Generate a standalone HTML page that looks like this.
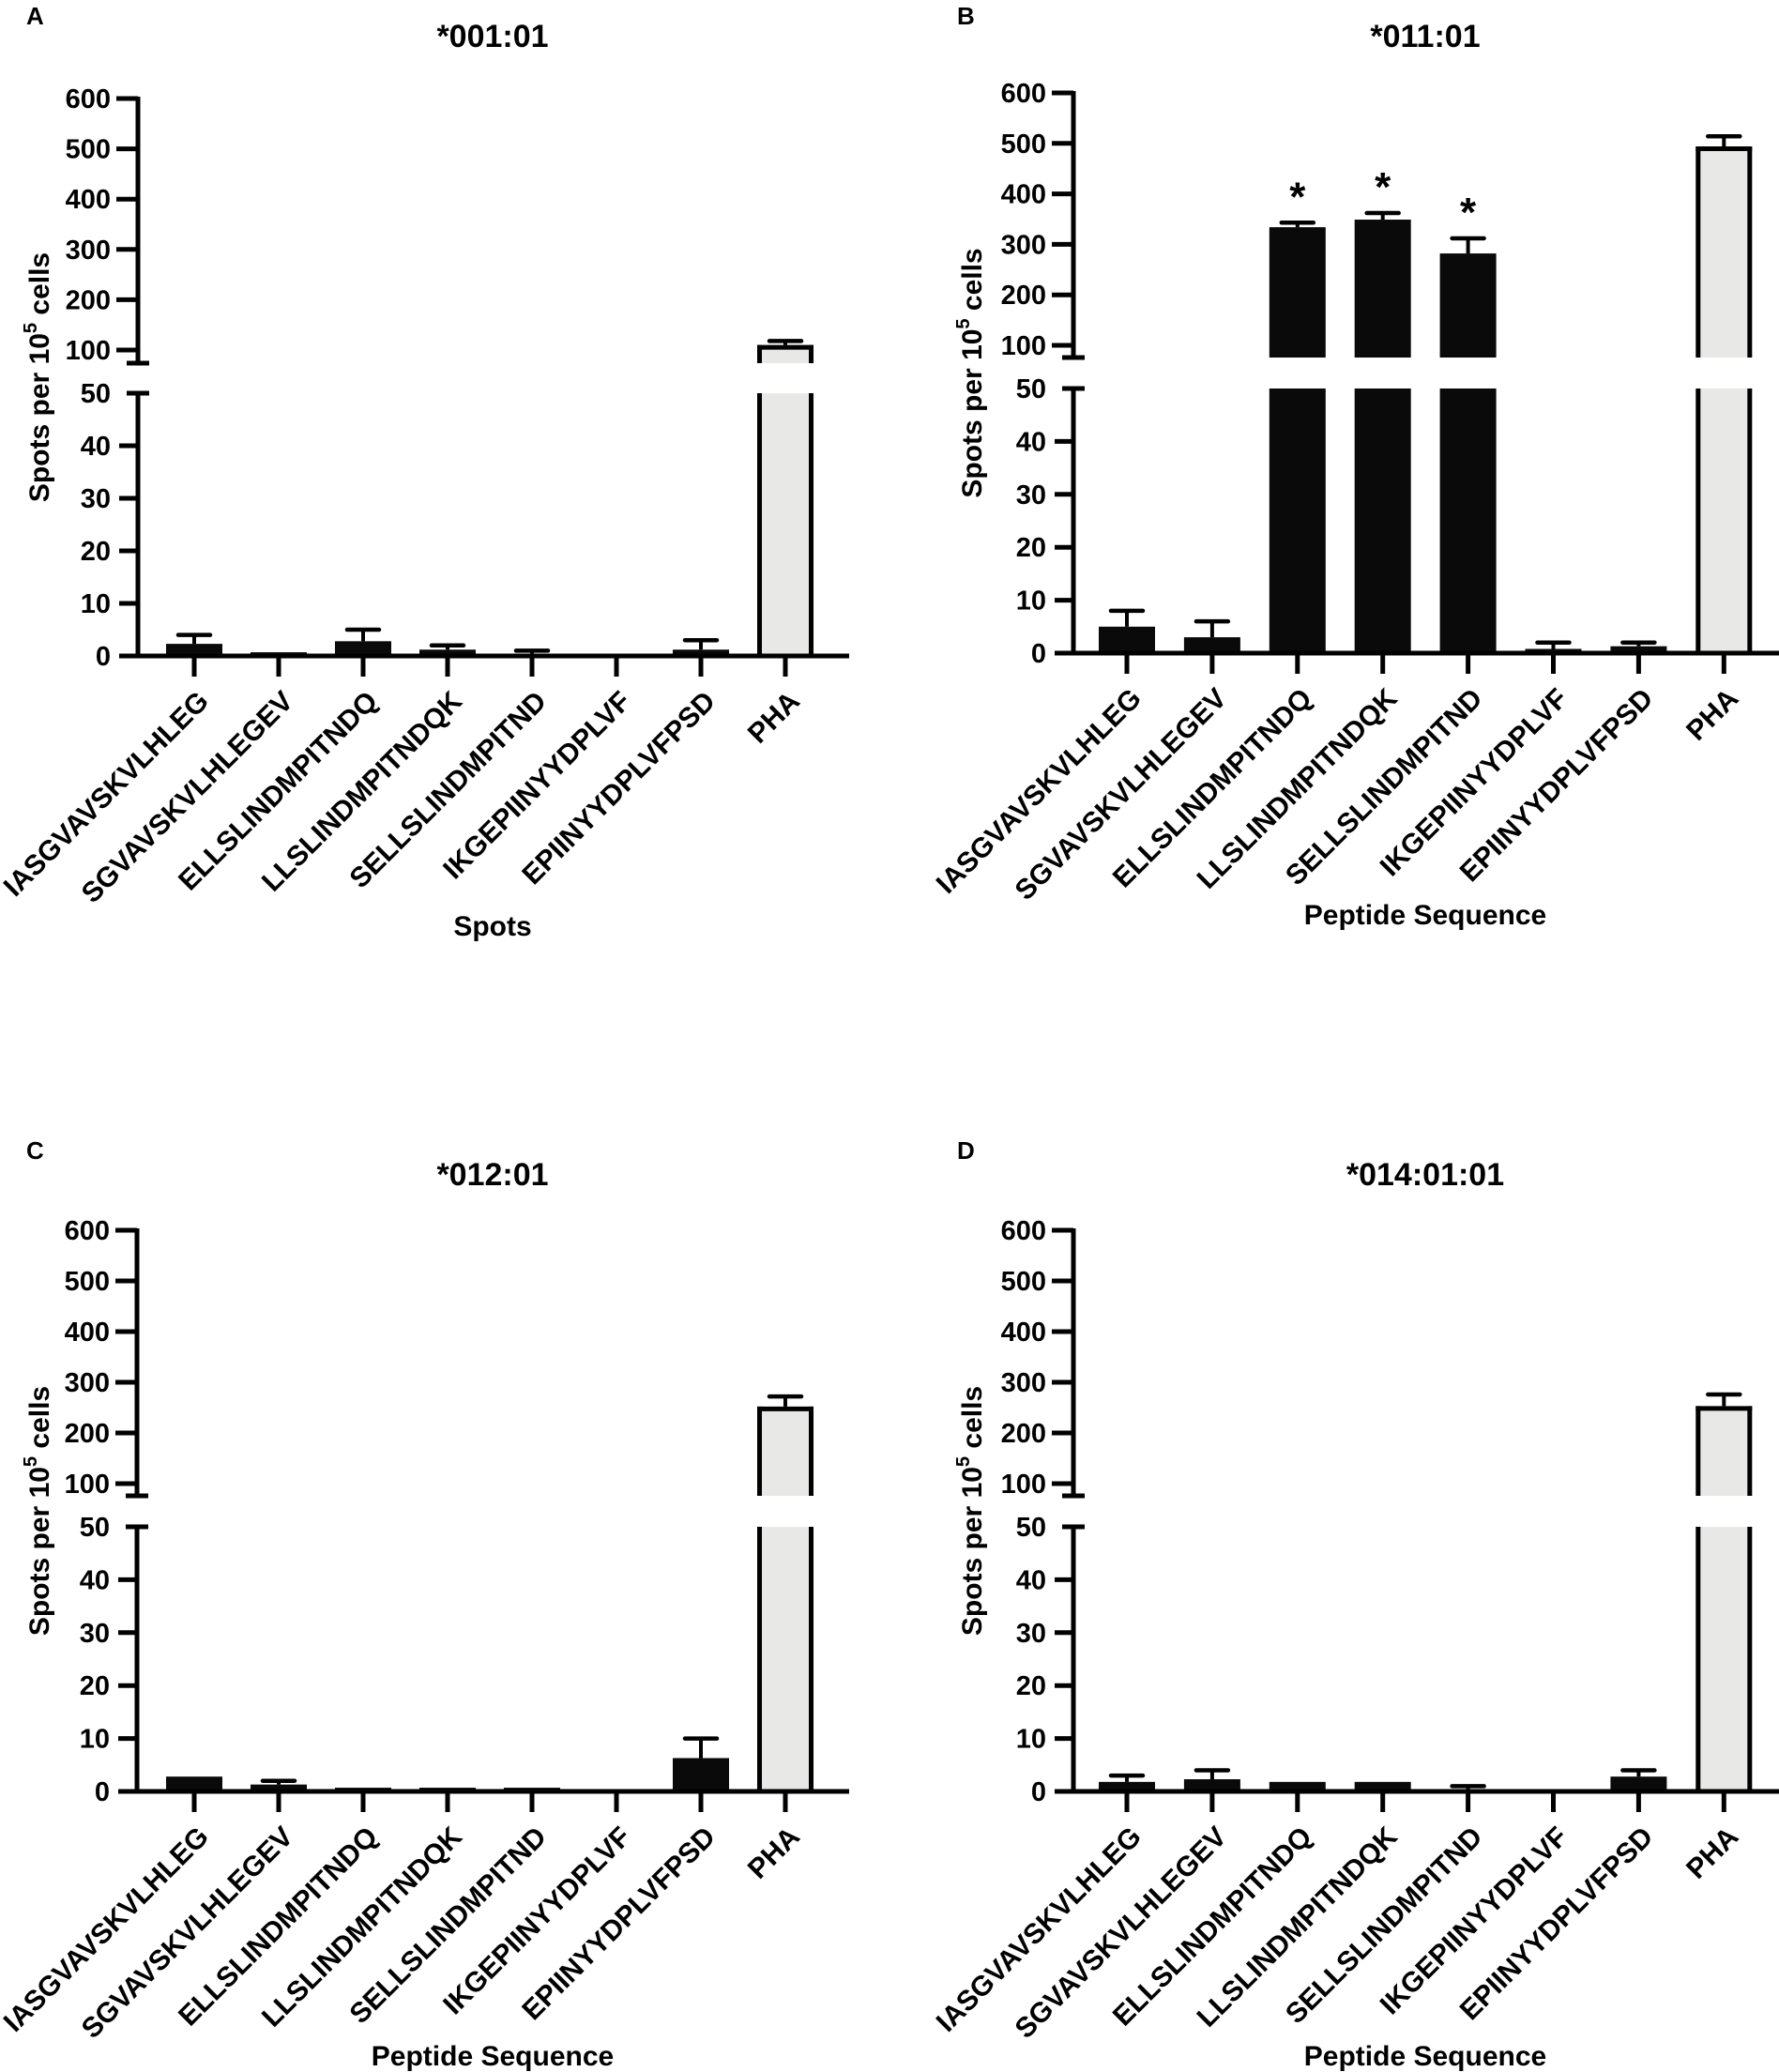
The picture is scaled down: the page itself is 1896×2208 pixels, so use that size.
<!DOCTYPE html>
<html><head><meta charset="utf-8"><style>
html,body{margin:0;padding:0;background:#fff;}
svg{display:block;font-family:"Liberation Sans",Arial,sans-serif;font-weight:bold;}
</style></head><body>
<svg id="fig" width="1896" height="2208" viewBox="0 0 1896 2208" xmlns="http://www.w3.org/2000/svg"></svg>
<script>
const categories = ["IASGVAVSKVLHLEG","SGVAVSKVLHLEGEV","ELLSLINDMPITNDQ","LLSLINDMPITNDQK","SELLSLINDMPITND","IKGEPIINYYDPLVF","EPIINYYDPLVFPSD","PHA"];
const yTicksUpper = [100,200,300,400,500,600];
const yTicksLower = [0,10,20,30,40,50];
const valuesA = [2.3,0.7,2.8,1.2,0.3,0,1.2,110];
const errA    = [4,0.7,5,2,1,0,3,118];
const valuesB = [5,3,334,349,282,0.8,1.3,494];
const errB    = [8,6,343,362,312,2,2,514];
const starsB  = [false,false,true,true,true,false,false,false];
const valuesC = [2.8,1.3,0.7,0.7,0.7,0,6.3,252];
const errC    = [2.8,2,0.7,0.7,0.7,0,10,272];
const valuesD = [1.8,2.3,1.8,1.8,0.3,0,2.8,253];
const errD    = [3,4,1.8,1.8,1,0,4,276];
const titles = ["*001:01","*011:01","*012:01","*014:01:01"];
const letters = ["A","B","C","D"];
const xTitles = ["Spots","Peptide Sequence","Peptide Sequence","Peptide Sequence"];

const NS="http://www.w3.org/2000/svg";
const svg=document.getElementById('fig');
function mk(tag,attrs,parent){const e=document.createElementNS(NS,tag);for(const k in attrs)e.setAttribute(k,attrs[k]);(parent||svg).appendChild(e);return e;}

const layouts=[
 {ax:147,y600:105,y100:373,yb:387,y50:419,y0:699,xEnd:905,cx0:207,dx:90,tx:525,ty:50,lx:28,ly:26,xtY:997,ytX:52},
 {ax:1144,y600:99,y100:368,yb:381,y50:414,y0:696,xEnd:1896,cx0:1201,dx:90.9,tx:1519,ty:50,lx:1020,ly:26,xtY:985,ytX:1046},
 {ax:146,y600:1311,y100:1581,yb:1594,y50:1627,y0:1909,xEnd:905,cx0:207,dx:90,tx:525,ty:1263,lx:28,ly:1235,xtY:2201,ytX:52},
 {ax:1144,y600:1311,y100:1581,yb:1594,y50:1627,y0:1909,xEnd:1896,cx0:1201,dx:90.9,tx:1519,ty:1263,lx:1020,ly:1235,xtY:2201,ytX:1046}
];
const allVals=[valuesA,valuesB,valuesC,valuesD];
const allErr=[errA,errB,errC,errD];

layouts.forEach((L,p)=>{
  const g=mk('g',{});
  
  
  const yL=v=>L.y0-(v/50)*(L.y0-L.y50);
  const yU=v=>L.y100-(v-100)*(L.y100-L.y600)/500;
  const yAny=v=>v<=50?yL(v):yU(v);
  const xc=i=>L.cx0+i*L.dx;
  const bw=60;

  const lt=mk('text',{x:L.lx,y:L.ly,'font-size':26},g);lt.textContent=letters[p];
  
  const tt=mk('text',{x:L.tx,y:L.ty,'font-size':34,'text-anchor':'middle'},g);tt.textContent=titles[p];
  

  const vals=allVals[p],errs=allErr[p];
  vals.forEach((v,i)=>{
    const isPHA=categories[i]==="PHA";
    const x=xc(i)-bw/2;
    const bg=mk('g',{},g);
    
    
    const fill=isPHA?'#e8e9e7':'#0a0a0a';
    if(v<=50){
      const top=yL(v);
      if(v>0) mk('rect',{x:x,y:top,width:bw,height:L.y0-top,fill:fill},bg);
    } else {
      mk('rect',{x:x,y:L.y50,width:bw,height:L.y0-L.y50,fill:fill},bg);
      const top=yU(v);
      mk('rect',{x:x,y:top,width:bw,height:L.yb-top,fill:fill},bg);
      if(isPHA){
        const s={stroke:'#000','stroke-width':5};
        mk('line',Object.assign({x1:x+2.5,y1:L.y50,x2:x+2.5,y2:L.y0},s),bg);
        mk('line',Object.assign({x1:x+bw-2.5,y1:L.y50,x2:x+bw-2.5,y2:L.y0},s),bg);
        mk('line',Object.assign({x1:x+2.5,y1:top,x2:x+2.5,y2:L.yb},s),bg);
        mk('line',Object.assign({x1:x+bw-2.5,y1:top,x2:x+bw-2.5,y2:L.yb},s),bg);
        mk('line',Object.assign({x1:x,y1:top+2.5,x2:x+bw,y2:top+2.5},s),bg);
      }
    }
    const e=errs[i];
    if(e>v){
      const yt=yAny(e),yv=yAny(v);
      const eg=mk('g',{},g);
      
      
      mk('line',{x1:xc(i),y1:yv,x2:xc(i),y2:yt,stroke:'#000','stroke-width':4},eg);
      mk('line',{x1:xc(i)-17,y1:yt,x2:xc(i)+17,y2:yt,stroke:'#000','stroke-width':4.5,'stroke-linecap':'round'},eg);
    }
    if(p===1 && starsB[i]){
      const st=mk('text',{x:xc(i),y:yAny(errs[i])-35+22,'font-size':44,'text-anchor':'middle'},g);
      st.textContent='*';
      
      
    }
  });

  const axg=mk('g',{},g);
  
  
  const A={stroke:'#000','stroke-width':5};
  mk('line',Object.assign({x1:L.ax,y1:L.y600-2,x2:L.ax,y2:L.yb},A),axg);
  mk('line',Object.assign({x1:L.ax,y1:L.y50,x2:L.ax,y2:L.y0+2},A),axg);
  mk('line',Object.assign({x1:L.ax-12,y1:L.yb,x2:L.ax+12,y2:L.yb},A),axg);
  mk('line',Object.assign({x1:L.ax-12,y1:L.y50,x2:L.ax+12,y2:L.y50},A),axg);
  yTicksUpper.forEach(t=>{
    const y=yU(t);
    mk('line',Object.assign({x1:L.ax-23,y1:y,x2:L.ax,y2:y},A),axg);
    const tx=mk('text',{x:L.ax-29,y:y+10,'font-size':29,'text-anchor':'end'},axg);tx.textContent=t;
    
  });
  yTicksLower.forEach(t=>{
    const y=yL(t);
    if(t!==50) mk('line',Object.assign({x1:L.ax-20,y1:y,x2:L.ax,y2:y},A),axg);
    const tx=mk('text',{x:L.ax-29,y:y+10,'font-size':29,'text-anchor':'end'},axg);tx.textContent=t;
    
  });
  const xg=mk('g',{},g);
  
  
  mk('line',Object.assign({x1:L.ax-2,y1:L.y0,x2:L.xEnd,y2:L.y0},A),xg);
  categories.forEach((c,i)=>{
    mk('line',Object.assign({x1:xc(i),y1:L.y0,x2:xc(i),y2:L.y0+22},A),xg);
    const ax=xc(i)+17, ay=L.y0+50;
    const tx=mk('text',{x:ax,y:ay,'font-size':30,'text-anchor':'end',transform:'rotate(-45 '+ax+' '+ay+')'},xg);
    tx.textContent=c;
    
    
  });

  const yt=mk('text',{x:0,y:0,'font-size':30,'text-anchor':'middle',transform:'translate('+L.ytX+','+((L.y600+L.y0)/2)+') rotate(-90)'},g);
  yt.innerHTML='Spots per 10<tspan dy="-13" font-size="20">5</tspan><tspan dy="13"> cells</tspan>';
  
  
  const xt=mk('text',{x:L.tx,y:L.xtY,'font-size':30,'text-anchor':'middle'},g);
  xt.textContent=xTitles[p];
  
  
});
</script>
</body></html>
